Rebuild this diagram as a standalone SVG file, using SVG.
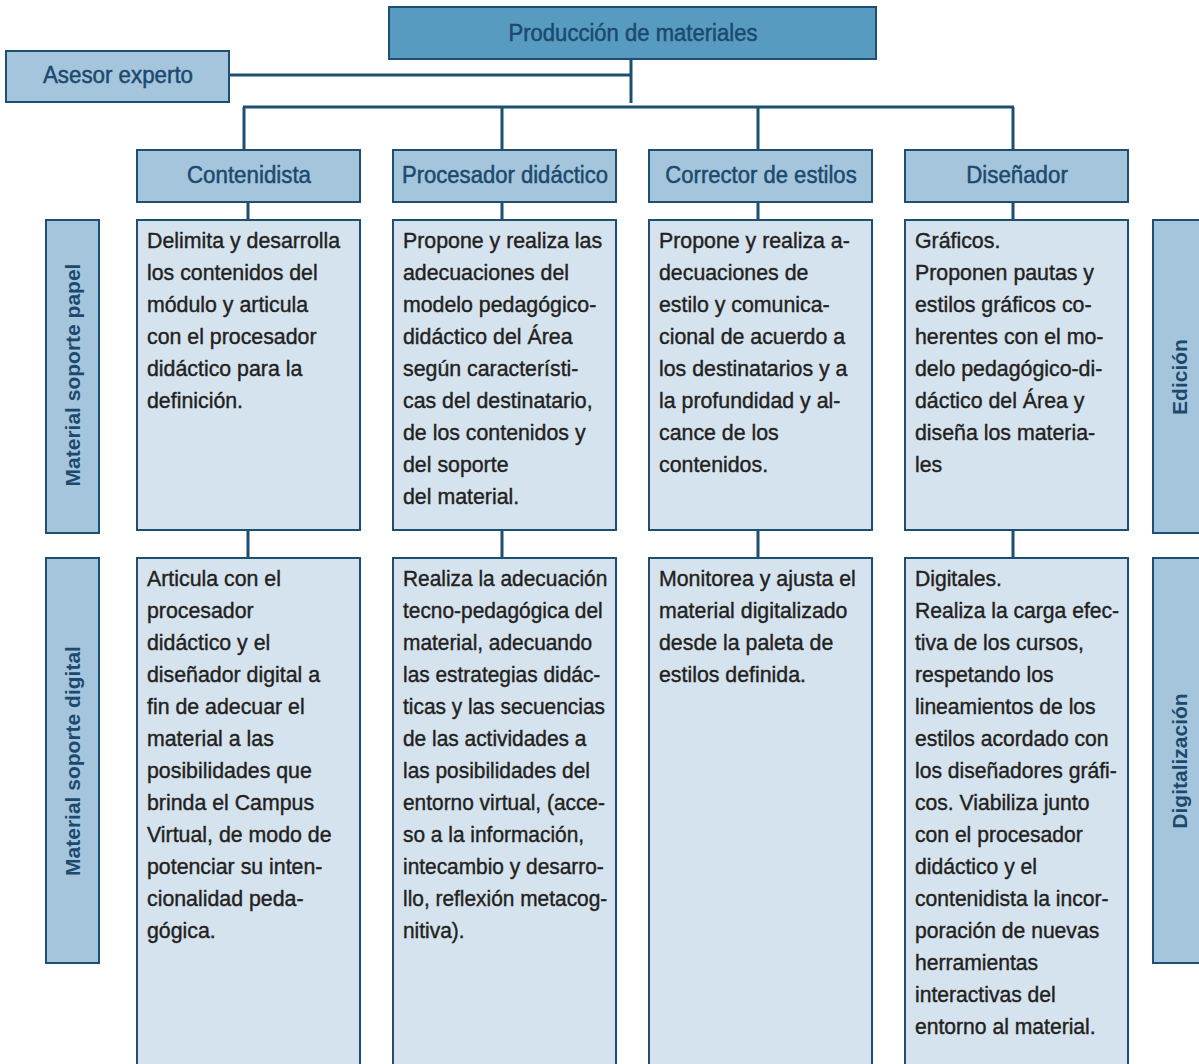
<svg xmlns="http://www.w3.org/2000/svg" width="1199" height="1064" viewBox="0 0 1199 1064">
<style>
.top{fill:#579bc1;stroke:#1d4f73;stroke-width:2}
.hd{fill:#a5c5dd;stroke:#1d4f73;stroke-width:2}
.bd{fill:#d5e3ee;stroke:#1d4f73;stroke-width:2}
.ht{font-family:"Liberation Sans",Arial,sans-serif;font-size:24px;fill:#1b4a6e;stroke:#1b4a6e;stroke-width:0.5;text-anchor:middle}
.bt{font-family:"Liberation Sans",Arial,sans-serif;font-size:22px;fill:#231f20;stroke:#231f20;stroke-width:0.4}
.st{font-family:"Liberation Sans",Arial,sans-serif;font-size:21px;font-weight:bold;fill:#1b4a6e;text-anchor:middle}
.ln{stroke:#1d4f73;stroke-width:3;fill:none}
</style>
<g id="connectors">
<path class="ln" d="M229 75H631M631 59V103M243 107H1014M244 107V150M502 107V150M758 107V150M1013 107V150"/>
<path class="ln" d="M248 202V220M502 202V220M758 202V220M1013 202V220M248 530V558M502 530V558M758 530V558M1013 530V558"/>
</g>
<g id="produccion"><rect class="top" x="389" y="7" width="487" height="52"/><text class="ht" transform="matrix(0.92 0 0 1 633 41)">Producción de materiales</text></g>
<g id="asesor"><rect class="hd" x="6" y="51" width="223" height="51"/><text class="ht" transform="matrix(0.93 0 0 1 118 83)">Asesor experto</text></g>
<g id="contenidista"><rect class="hd" x="137" y="150" width="223" height="52"/><text class="ht" transform="matrix(0.93 0 0 1 249 183)">Contenidista</text></g>
<g id="procesador"><rect class="hd" x="393" y="150" width="223" height="52"/><text class="ht" transform="matrix(0.92 0 0 1 505 183)">Procesador didáctico</text></g>
<g id="corrector"><rect class="hd" x="649" y="150" width="223" height="52"/><text class="ht" transform="matrix(0.92 0 0 1 761 183)">Corrector de estilos</text></g>
<g id="disenador"><rect class="hd" x="905" y="150" width="223" height="52"/><text class="ht" transform="matrix(0.93 0 0 1 1017 183)">Diseñador</text></g>
<g id="papel"><rect class="hd" x="46" y="220" width="53" height="313"/><text class="st" transform="translate(80 375) rotate(-90)">Material soporte papel</text></g>
<g id="digital"><rect class="hd" x="46" y="558" width="53" height="405"/><text class="st" transform="translate(80 761) rotate(-90)">Material soporte digital</text></g>
<g id="edicion"><rect class="hd" x="1153" y="220" width="50" height="313"/><text class="st" transform="translate(1187 377) rotate(-90)">Edición</text></g>
<g id="digitalizacion"><rect class="hd" x="1153" y="558" width="50" height="405"/><text class="st" transform="translate(1187 761) rotate(-90)">Digitalización</text></g>
<g id="cont-papel"><rect class="bd" x="137" y="220" width="223" height="310"/>
<text class="bt" transform="matrix(0.97 0 0 1 147 0)" y="248"><tspan x="0">Delimita y desarrolla</tspan><tspan x="0" dy="32">los contenidos del</tspan><tspan x="0" dy="32">módulo y articula</tspan><tspan x="0" dy="32">con el procesador</tspan><tspan x="0" dy="32">didáctico para la</tspan><tspan x="0" dy="32">definición.</tspan></text></g>
<g id="proc-papel"><rect class="bd" x="393" y="220" width="223" height="310"/>
<text class="bt" transform="matrix(0.97 0 0 1 403 0)" y="248"><tspan x="0">Propone y realiza las</tspan><tspan x="0" dy="32">adecuaciones del</tspan><tspan x="0" dy="32">modelo pedagógico-</tspan><tspan x="0" dy="32">didáctico del Área</tspan><tspan x="0" dy="32">según característi-</tspan><tspan x="0" dy="32">cas del destinatario,</tspan><tspan x="0" dy="32">de los contenidos y</tspan><tspan x="0" dy="32">del soporte</tspan><tspan x="0" dy="32">del material.</tspan></text></g>
<g id="corr-papel"><rect class="bd" x="649" y="220" width="223" height="310"/>
<text class="bt" transform="matrix(0.97 0 0 1 659 0)" y="248"><tspan x="0">Propone y realiza a-</tspan><tspan x="0" dy="32">decuaciones de</tspan><tspan x="0" dy="32">estilo y comunica-</tspan><tspan x="0" dy="32">cional de acuerdo a</tspan><tspan x="0" dy="32">los destinatarios y a</tspan><tspan x="0" dy="32">la profundidad y al-</tspan><tspan x="0" dy="32">cance de los</tspan><tspan x="0" dy="32">contenidos.</tspan></text></g>
<g id="dis-papel"><rect class="bd" x="905" y="220" width="223" height="310"/>
<text class="bt" transform="matrix(0.97 0 0 1 915 0)" y="248"><tspan x="0">Gráficos.</tspan><tspan x="0" dy="32">Proponen pautas y</tspan><tspan x="0" dy="32">estilos gráficos co-</tspan><tspan x="0" dy="32">herentes con el mo-</tspan><tspan x="0" dy="32">delo pedagógico-di-</tspan><tspan x="0" dy="32">dáctico del Área y</tspan><tspan x="0" dy="32">diseña los materia-</tspan><tspan x="0" dy="32">les</tspan></text></g>
<g id="cont-digital"><rect class="bd" x="137" y="558" width="223" height="520"/>
<text class="bt" transform="matrix(0.97 0 0 1 147 0)" y="586"><tspan x="0">Articula con el</tspan><tspan x="0" dy="32">procesador</tspan><tspan x="0" dy="32">didáctico y el</tspan><tspan x="0" dy="32">diseñador digital a</tspan><tspan x="0" dy="32">fin de adecuar el</tspan><tspan x="0" dy="32">material a las</tspan><tspan x="0" dy="32">posibilidades que</tspan><tspan x="0" dy="32">brinda el Campus</tspan><tspan x="0" dy="32">Virtual, de modo de</tspan><tspan x="0" dy="32">potenciar su inten-</tspan><tspan x="0" dy="32">cionalidad peda-</tspan><tspan x="0" dy="32">gógica.</tspan></text></g>
<g id="proc-digital"><rect class="bd" x="393" y="558" width="223" height="520"/>
<text class="bt" transform="matrix(0.95 0 0 1 403 0)" y="586"><tspan x="0">Realiza la adecuación</tspan><tspan x="0" dy="32">tecno-pedagógica del</tspan><tspan x="0" dy="32">material, adecuando</tspan><tspan x="0" dy="32">las estrategias didác-</tspan><tspan x="0" dy="32">ticas y las secuencias</tspan><tspan x="0" dy="32">de las actividades a</tspan><tspan x="0" dy="32">las posibilidades del</tspan><tspan x="0" dy="32">entorno virtual, (acce-</tspan><tspan x="0" dy="32">so a la información,</tspan><tspan x="0" dy="32">intecambio y desarro-</tspan><tspan x="0" dy="32">llo, reflexión metacog-</tspan><tspan x="0" dy="32">nitiva).</tspan></text></g>
<g id="corr-digital"><rect class="bd" x="649" y="558" width="223" height="520"/>
<text class="bt" transform="matrix(0.97 0 0 1 659 0)" y="586"><tspan x="0">Monitorea y ajusta el</tspan><tspan x="0" dy="32">material digitalizado</tspan><tspan x="0" dy="32">desde la paleta de</tspan><tspan x="0" dy="32">estilos definida.</tspan></text></g>
<g id="dis-digital"><rect class="bd" x="905" y="558" width="223" height="520"/>
<text class="bt" transform="matrix(0.96 0 0 1 915 0)" y="586"><tspan x="0">Digitales.</tspan><tspan x="0" dy="32">Realiza la carga efec-</tspan><tspan x="0" dy="32">tiva de los cursos,</tspan><tspan x="0" dy="32">respetando los</tspan><tspan x="0" dy="32">lineamientos de los</tspan><tspan x="0" dy="32">estilos acordado con</tspan><tspan x="0" dy="32">los diseñadores gráfi-</tspan><tspan x="0" dy="32">cos. Viabiliza junto</tspan><tspan x="0" dy="32">con el procesador</tspan><tspan x="0" dy="32">didáctico y el</tspan><tspan x="0" dy="32">contenidista la incor-</tspan><tspan x="0" dy="32">poración de nuevas</tspan><tspan x="0" dy="32">herramientas</tspan><tspan x="0" dy="32">interactivas del</tspan><tspan x="0" dy="32">entorno al material.</tspan></text></g>
</svg>
